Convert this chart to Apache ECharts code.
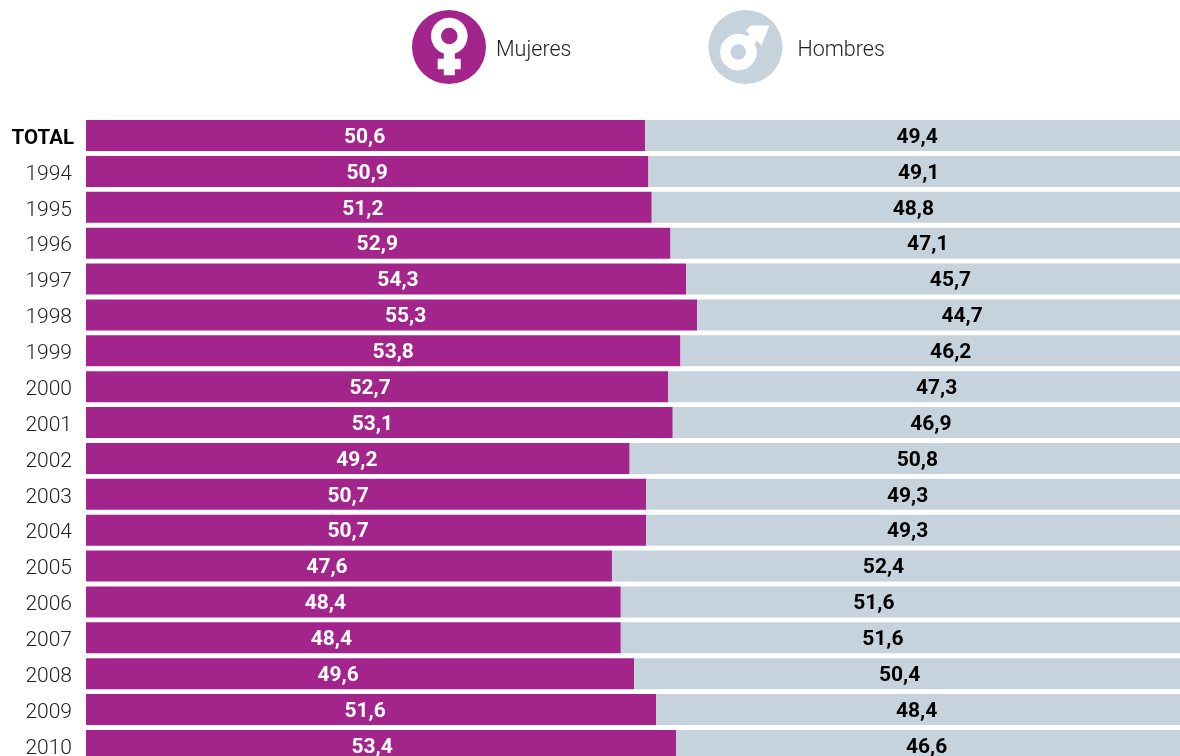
<!DOCTYPE html>
<html><head><meta charset="utf-8">
<style>html,body{margin:0;padding:0;background:#fff}#c{width:1180px;height:756px}</style>
<script src="https://cdn.jsdelivr.net/npm/echarts@6/dist/echarts.min.js"></script>
</head><body><div id="c"></div>
<script>
const categories = ['TOTAL','1994','1995','1996','1997','1998','1999','2000','2001','2002','2003','2004','2005','2006','2007','2008','2009','2010'];
const mujeres = [50.6,50.9,51.2,52.9,54.3,55.3,53.8,52.7,53.1,49.2,50.7,50.7,47.6,48.4,48.4,49.6,51.6,53.4];
const hombres = [49.4,49.1,48.8,47.1,45.7,44.7,46.2,47.3,46.9,50.8,49.3,49.3,52.4,51.6,51.6,50.4,48.4,46.6];
// The original's value labels are hand placed, not centred: horizontal nudges in px.
const mujeresNudge = [-1,0,-6,-1,12,14,10,-7,-7,-1,-18,-18,-22,-28,-22,-22,-6,-9];
const hombresNudge = [-1,-1,-8,-3,12,18,15,7,-1,7,-11,-11,-18,-32,-23,-13,-7,-7];

const iconMujeres = 'path://M37 0A37 37 0 0 1 37 74A37 37 0 0 1 37 0Z' +
  'M42.8 43.4A18.3 18.3 0 1 0 31.8 43.4L31.8 48.7L25.7 48.7L25.7 59.3L31.8 59.3L31.8 65.3L42.8 65.3L42.8 59.3L48.7 59.3L48.7 48.7L42.8 48.7Z' +
  'M37.3 17.7A8.3 8.3 0 0 1 37.3 34.3A8.3 8.3 0 0 1 37.3 17.7Z';
const iconHombres = 'path://M37 0A37 37 0 0 1 37 74A37 37 0 0 1 37 0Z' +
  'M39 26.3A18.3 18.3 0 1 0 46 33.5L48.8 30.8L53 35.6L60.8 15.6L42 15.4L37.4 21L41.2 24.3Z' +
  'M29.7 34.3A7.7 7.7 0 0 1 29.7 49.7A7.7 7.7 0 0 1 29.7 34.3Z';

const font = 'Roboto, sans-serif';
const fmt = v => String(v).replace('.', ',');
const labelled = (vals, nudges, color) => vals.map((v, i) => ({
  value: v,
  label: { offset: [nudges[i], 2], color }
}));
const chart = echarts.init(document.getElementById('c'), null, {renderer:'canvas'});
chart.setOption({
  animation: false,
  legend: {
    left: 412, top: 10, orient: 'horizontal', padding: 0,
    itemWidth: 74, itemHeight: 74, itemGap: 137,
    selectedMode: false,
    formatter: n => '{' + (n === 'Mujeres' ? 'm' : 'h') + '|' + n + '}',
    textStyle: {
      fontFamily: font, fontSize: 21.5, fontWeight: 300, color: '#222',
      rich: {
        m: { fontFamily: font, fontSize: 21.5, fontWeight: 300, color: '#222', padding: [7,0,0,5] },
        h: { fontFamily: font, fontSize: 21.5, fontWeight: 300, color: '#222', padding: [7,0,0,10] }
      }
    },
    data: [
      { name: 'Mujeres', icon: iconMujeres, itemStyle: { color: '#a3258c' } },
      { name: 'Hombres', icon: iconHombres, itemStyle: { color: '#c6d3dc' } }
    ]
  },
  grid: { left: 86, top: 117.6, width: 1105, height: 645.8, containLabel: false, outerBoundsMode: 'none' },
  xAxis: { type: 'value', min: 0, max: 100, show: false },
  yAxis: {
    type: 'category', inverse: true, data: categories,
    axisLine: { show: false }, axisTick: { show: false },
    axisLabel: {
      margin: 12, fontFamily: font, fontSize: 21, fontWeight: 300, color: '#222', padding: [6,0,0,0],
      formatter: v => v === 'TOTAL' ? '{t|' + v + '}' : '{y|' + v + '}',
      rich: {
        t: { fontFamily: font, fontSize: 20.5, fontWeight: 700, color: '#000' },
        y: { fontFamily: font, fontSize: 21, fontWeight: 300, color: '#222', padding: [0,2,0,0] }
      }
    }
  },
  series: [
    { name: 'Mujeres', type: 'bar', stack: 'a', barWidth: 31, silent: true,
      itemStyle: { color: '#a3258c' },
      label: { show: true, position: 'inside', fontFamily: font, fontSize: 21, fontWeight: 700, color: '#fff',
        formatter: p => fmt(p.value) },
      data: labelled(mujeres, mujeresNudge, '#fff') },
    { name: 'Hombres', type: 'bar', stack: 'a', barWidth: 31, silent: true,
      itemStyle: { color: '#c6d3dc' },
      label: { show: true, position: 'inside', fontFamily: font, fontSize: 21, fontWeight: 700, color: '#000',
        formatter: p => fmt(p.value) },
      data: labelled(hombres, hombresNudge, '#000') }
  ]
});
</script></body></html>
